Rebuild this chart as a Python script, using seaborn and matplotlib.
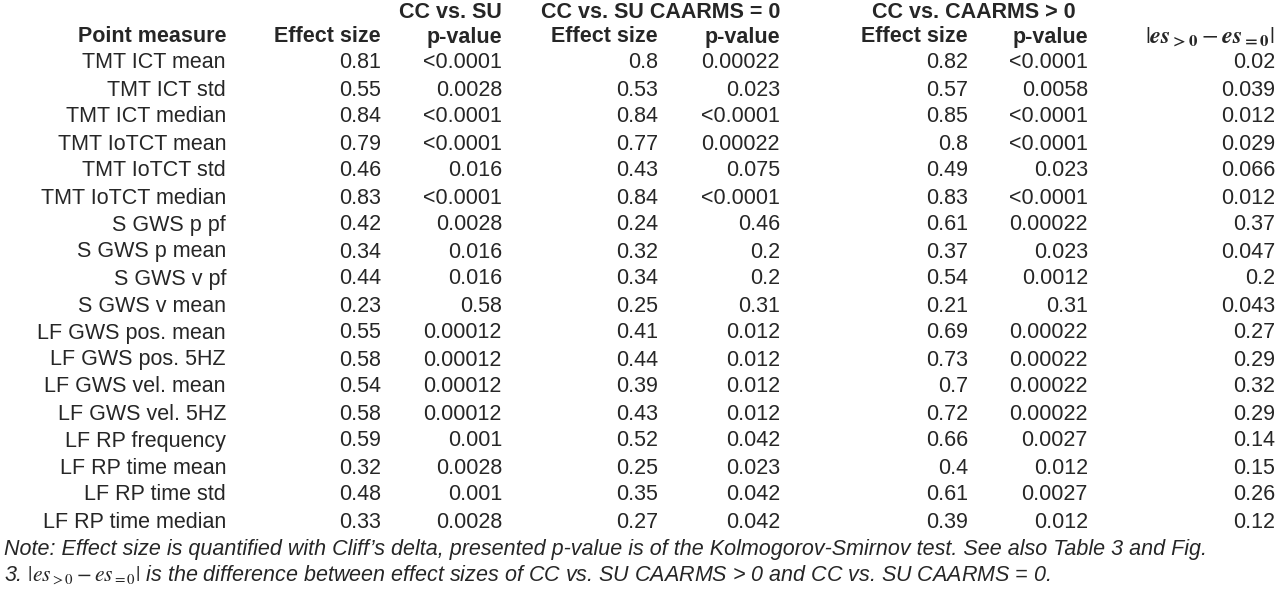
import matplotlib
matplotlib.use("Agg")
import matplotlib.pyplot as plt
import seaborn as sns

sns.set_theme(style="white")
plt.rcParams['font.family'] = ['Liberation Sans', 'DejaVu Sans']
plt.rcParams['mathtext.fontset'] = 'stix'

measures = ["TMT ICT mean","TMT ICT std","TMT ICT median","TMT IoTCT mean","TMT IoTCT std",
            "TMT IoTCT median","S GWS p pf","S GWS p mean","S GWS v pf","S GWS v mean",
            "LF GWS pos. mean","LF GWS pos. 5HZ","LF GWS vel. mean","LF GWS vel. 5HZ",
            "LF RP frequency","LF RP time mean","LF RP time std","LF RP time median"]
es_all = ["0.81","0.55","0.84","0.79","0.46","0.83","0.42","0.34","0.44","0.23","0.55","0.58","0.54","0.58","0.59","0.32","0.48","0.33"]
p_all = ["<0.0001","0.0028","<0.0001","<0.0001","0.016","<0.0001","0.0028","0.016","0.016","0.58","0.00012","0.00012","0.00012","0.00012","0.001","0.0028","0.001","0.0028"]
es_0 = ["0.8","0.53","0.84","0.77","0.43","0.84","0.24","0.32","0.34","0.25","0.41","0.44","0.39","0.43","0.52","0.25","0.35","0.27"]
p_0 = ["0.00022","0.023","<0.0001","0.00022","0.075","<0.0001","0.46","0.2","0.2","0.31","0.012","0.012","0.012","0.012","0.042","0.023","0.042","0.042"]
es_g = ["0.82","0.57","0.85","0.8","0.49","0.83","0.61","0.37","0.54","0.21","0.69","0.73","0.7","0.72","0.66","0.4","0.61","0.39"]
p_g = ["<0.0001","0.0058","<0.0001","<0.0001","0.023","<0.0001","0.00022","0.023","0.0012","0.31","0.00022","0.00022","0.00022","0.00022","0.0027","0.012","0.0027","0.012"]
diff = ["0.02","0.039","0.012","0.029","0.066","0.012","0.37","0.047","0.2","0.043","0.27","0.29","0.32","0.29","0.14","0.15","0.26","0.12"]

W, H = 1280, 592
fig = plt.figure(figsize=(12.8, 5.92), dpi=100)
ax = fig.add_axes([0, 0, 1, 1])
ax.set_xlim(0, W); ax.set_ylim(H, 0); ax.axis("off")

fs = 15.5
xs = [226, 381, 502, 658, 780, 968, 1088, 1275]
cols = [measures, es_all, p_all, es_0, p_0, es_g, p_g, diff]

top = [(502, "CC vs. SU"), (780, "CC vs. SU CAARMS = 0"), (1076, "CC vs. CAARMS > 0")]
for x, t in top:
    ax.text(x, 12, t, ha="right", va="center", fontsize=fs, fontweight="bold")
heads = ["Point measure", "Effect size", "p-value", "Effect size", "p-value", "Effect size", "p-value"]
for x, t in zip(xs, heads):
    ax.text(x, 37, t, ha="right", va="center", fontsize=fs, fontweight="bold")
ax.text(1274, 37, r"$|\boldsymbol{es}_{\mathbf{>0}}-\boldsymbol{es}_{\mathbf{=0}}|$", ha="right", va="center", fontsize=fs+2)

for i in range(len(measures)):
    y = 63 + i * 27.0
    for x, c in zip(xs, cols):
        ax.text(x, y, c[i], ha="right", va="center", fontsize=fs)

ax.text(4, 549, "Note: Effect size is quantified with Cliff’s delta, presented p-value is of the Kolmogorov-Smirnov test. See also Table 3 and Fig.",
        ha="left", va="center", fontsize=fs, style="italic")
ax.text(4, 575, r"3. $|es_{>0}-es_{=0}|$ is the difference between effect sizes of CC vs. SU CAARMS > 0 and CC vs. SU CAARMS = 0.",
        ha="left", va="center", fontsize=fs, style="italic")

fig.savefig("out.png", dpi=100, facecolor="white")
